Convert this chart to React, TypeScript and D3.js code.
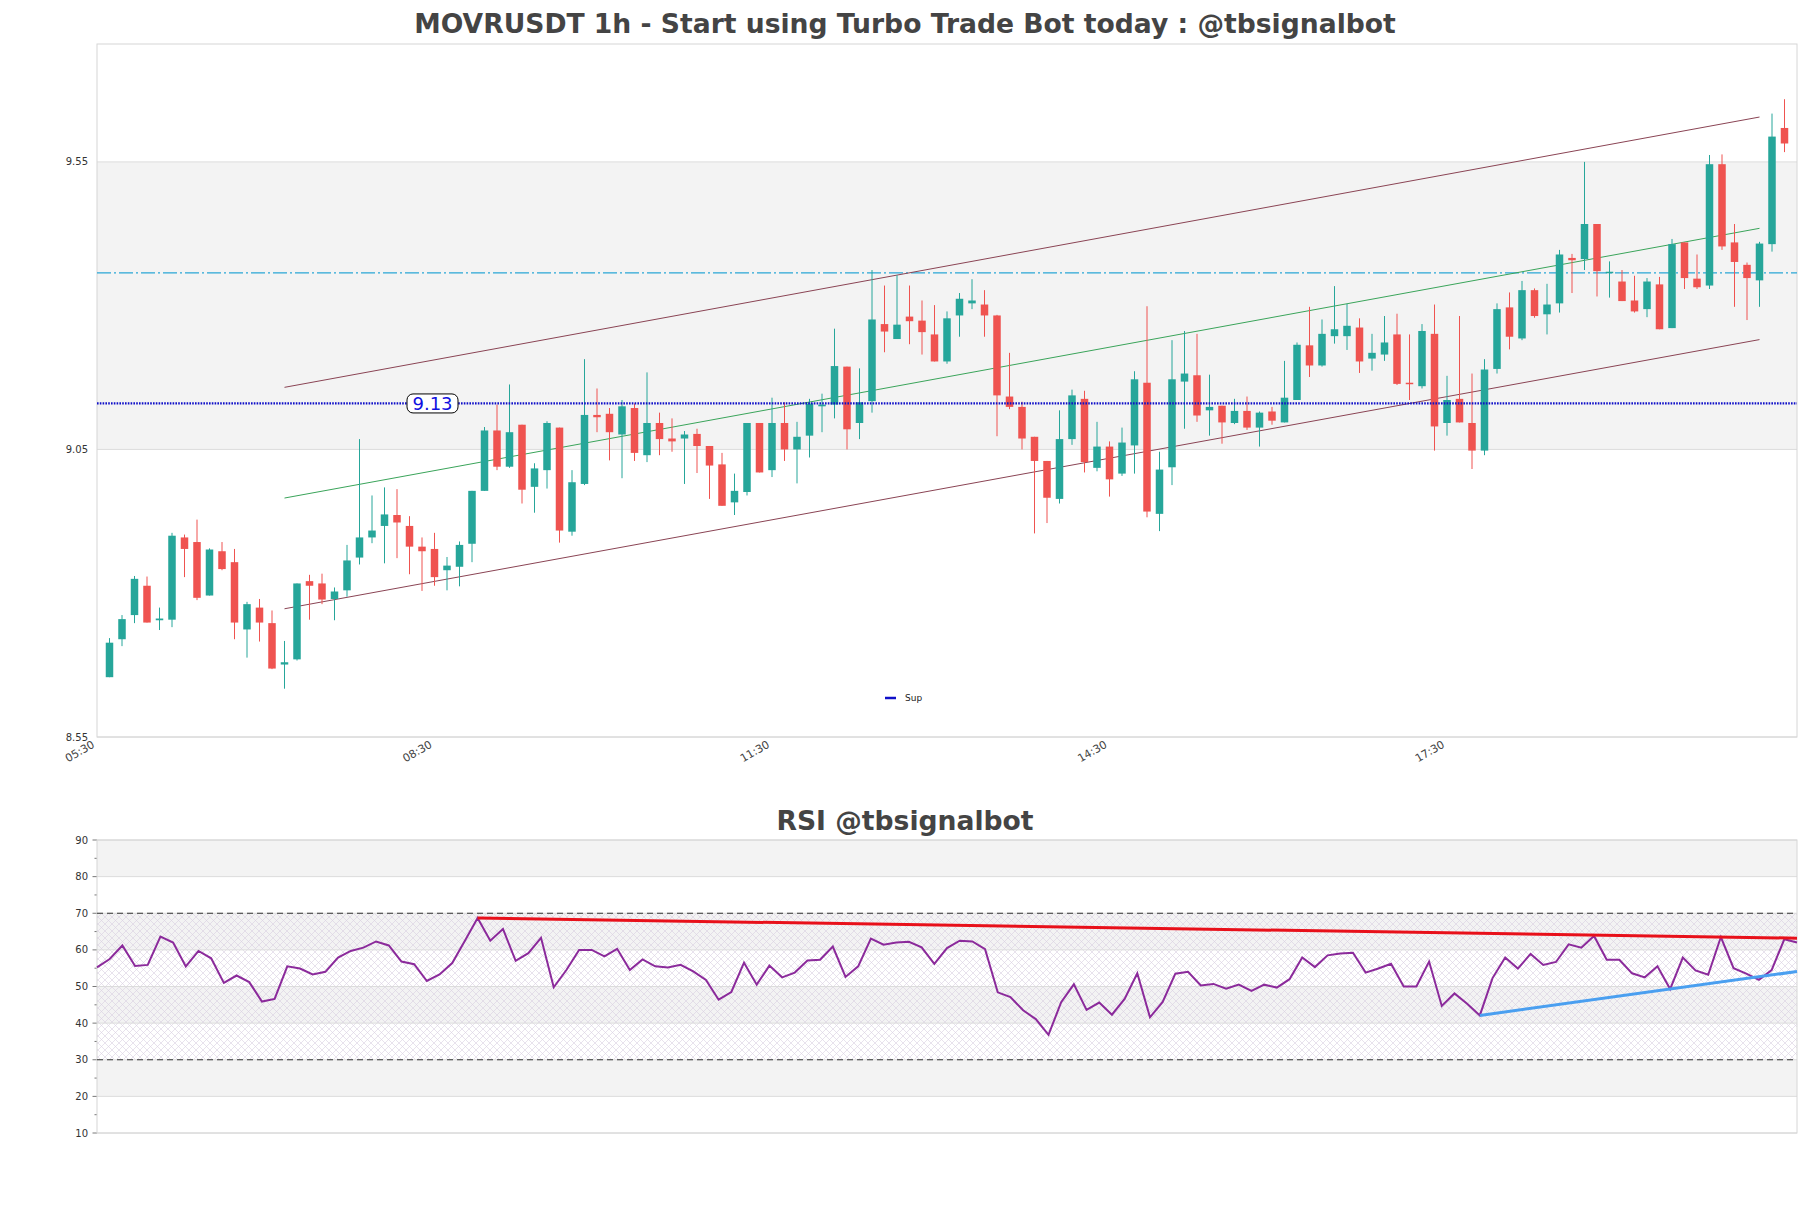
import * as d3 from 'd3';

// candle data, index 0 = first candle
const opens = [
  8.654, 8.720, 8.762, 8.813, 8.753, 8.754, 8.897, 8.889, 8.796, 8.873,
  8.854, 8.737, 8.775, 8.748, 8.676, 8.685, 8.821, 8.817, 8.790, 8.805,
  8.862, 8.897, 8.917, 8.936, 8.917, 8.881, 8.877, 8.840, 8.846, 8.886,
  8.978, 9.083, 9.020, 9.093, 8.985, 9.014, 9.088, 8.907, 8.990, 9.110,
  9.112, 9.076, 9.122, 9.040, 9.096, 9.069, 9.069, 9.077, 9.056, 9.024,
  8.958, 8.976, 9.096, 9.014, 9.096, 9.050, 9.074, 9.125, 9.128, 9.194,
  9.096, 9.134, 9.268, 9.242, 9.281, 9.274, 9.250, 9.203, 9.283, 9.304,
  9.302, 9.283, 9.142, 9.124, 9.072, 9.030, 8.964, 9.068, 9.138, 9.018,
  9.055, 9.008, 9.057, 9.166, 8.938, 9.019, 9.168, 9.179, 9.118, 9.126,
  9.096, 9.117, 9.088, 9.116, 9.097, 9.136, 9.231, 9.196, 9.247, 9.247,
  9.262, 9.208, 9.215, 9.250, 9.166, 9.160, 9.251, 9.096, 9.138, 9.096,
  9.048, 9.190, 9.297, 9.243, 9.327, 9.285, 9.304, 9.383, 9.381, 9.442,
  9.357, 9.342, 9.309, 9.294, 9.337, 9.261, 9.410, 9.347, 9.335, 9.546,
  9.410, 9.371, 9.344, 9.407, 9.609,
];
const highs = [
  8.722, 8.762, 8.830, 8.829, 8.775, 8.905, 8.902, 8.928, 8.878, 8.889,
  8.877, 8.785, 8.790, 8.770, 8.717, 8.817, 8.832, 8.834, 8.810, 8.884,
  9.068, 8.970, 8.984, 8.981, 8.934, 8.897, 8.905, 8.863, 8.890, 8.978,
  9.089, 9.128, 9.163, 9.093, 9.026, 9.099, 9.088, 9.014, 9.207, 9.156,
  9.122, 9.136, 9.130, 9.184, 9.114, 9.104, 9.082, 9.086, 9.056, 9.044,
  9.008, 9.096, 9.096, 9.140, 9.132, 9.098, 9.138, 9.147, 9.260, 9.194,
  9.191, 9.362, 9.335, 9.353, 9.335, 9.309, 9.301, 9.290, 9.322, 9.346,
  9.327, 9.284, 9.218, 9.133, 9.072, 9.030, 9.118, 9.154, 9.152, 9.098,
  9.064, 9.088, 9.186, 9.299, 9.046, 9.240, 9.256, 9.251, 9.180, 9.126,
  9.138, 9.142, 9.116, 9.124, 9.204, 9.236, 9.298, 9.276, 9.334, 9.303,
  9.278, 9.251, 9.282, 9.286, 9.250, 9.268, 9.302, 9.178, 9.282, 9.182,
  9.207, 9.304, 9.323, 9.343, 9.330, 9.338, 9.397, 9.390, 9.550, 9.442,
  9.377, 9.362, 9.352, 9.348, 9.350, 9.416, 9.410, 9.389, 9.562, 9.563,
  9.442, 9.375, 9.411, 9.634, 9.659,
];
const lows = [
  8.654, 8.708, 8.748, 8.749, 8.736, 8.741, 8.828, 8.788, 8.796, 8.840,
  8.720, 8.688, 8.716, 8.668, 8.634, 8.683, 8.754, 8.781, 8.753, 8.794,
  8.850, 8.887, 8.852, 8.861, 8.833, 8.804, 8.813, 8.805, 8.812, 8.854,
  8.978, 9.014, 9.018, 8.956, 8.940, 8.982, 8.888, 8.900, 8.988, 9.080,
  9.031, 9.000, 9.030, 9.028, 9.040, 9.046, 8.990, 9.009, 8.964, 8.952,
  8.936, 8.970, 9.010, 9.002, 9.030, 8.991, 9.036, 9.080, 9.104, 9.050,
  9.068, 9.114, 9.219, 9.242, 9.233, 9.215, 9.203, 9.199, 9.246, 9.294,
  9.246, 9.073, 9.120, 9.050, 8.904, 8.922, 8.956, 9.058, 9.010, 9.012,
  8.968, 9.004, 9.008, 8.932, 8.908, 8.988, 9.086, 9.098, 9.074, 9.060,
  9.094, 9.084, 9.055, 9.093, 9.097, 9.136, 9.176, 9.194, 9.234, 9.223,
  9.183, 9.187, 9.204, 9.162, 9.136, 9.156, 9.048, 9.074, 9.097, 9.016,
  9.040, 9.182, 9.224, 9.240, 9.279, 9.250, 9.288, 9.322, 9.362, 9.316,
  9.314, 9.308, 9.288, 9.280, 9.259, 9.261, 9.329, 9.329, 9.329, 9.397,
  9.298, 9.275, 9.298, 9.394, 9.567,
];
const closes = [
  8.714, 8.755, 8.825, 8.749, 8.756, 8.900, 8.877, 8.792, 8.876, 8.842,
  8.749, 8.781, 8.749, 8.669, 8.680, 8.817, 8.813, 8.789, 8.803, 8.857,
  8.897, 8.909, 8.937, 8.923, 8.881, 8.873, 8.828, 8.848, 8.884, 8.978,
  9.083, 9.020, 9.080, 8.980, 9.017, 9.096, 8.909, 8.993, 9.110, 9.106,
  9.080, 9.125, 9.044, 9.096, 9.068, 9.064, 9.076, 9.056, 9.022, 8.952,
  8.978, 9.096, 9.010, 9.096, 9.050, 9.072, 9.130, 9.128, 9.195, 9.085,
  9.132, 9.276, 9.255, 9.267, 9.273, 9.254, 9.203, 9.278, 9.312, 9.309,
  9.283, 9.144, 9.124, 9.069, 9.030, 8.966, 9.068, 9.144, 9.028, 9.055,
  8.998, 9.062, 9.172, 8.942, 9.015, 9.172, 9.182, 9.109, 9.124, 9.097,
  9.117, 9.088, 9.114, 9.100, 9.140, 9.232, 9.196, 9.251, 9.259, 9.265,
  9.203, 9.218, 9.236, 9.164, 9.164, 9.256, 9.090, 9.136, 9.097, 9.048,
  9.189, 9.294, 9.246, 9.327, 9.282, 9.302, 9.389, 9.379, 9.442, 9.360,
  9.359, 9.308, 9.290, 9.342, 9.259, 9.407, 9.348, 9.332, 9.546, 9.403,
  9.376, 9.348, 9.408, 9.594, 9.582,
];

const rsi = [
  55.2, 57.5, 61.2, 55.6, 55.9, 63.6, 62.0, 55.5, 59.7, 57.7,
  51.0, 53.0, 51.2, 45.9, 46.6, 55.5, 54.9, 53.3, 54.0, 57.9,
  59.7, 60.6, 62.3, 61.2, 56.8, 56.1, 51.5, 53.3, 56.4, 62.5,
  68.7, 62.5, 65.7, 57.0, 59.1, 63.3, 49.8, 54.5, 60.0, 60.0,
  58.2, 60.3, 54.5, 57.4, 55.5, 55.2, 55.9, 54.1, 51.8, 46.4,
  48.5, 56.5, 50.5, 55.7, 52.5, 53.8, 57.1, 57.3, 60.9, 52.6,
  55.5, 63.1, 61.4, 62.0, 62.2, 60.7, 56.2, 60.5, 62.5, 62.3,
  60.2, 48.4, 47.1, 43.5, 41.1, 36.8, 45.7, 50.6, 43.6, 45.6,
  42.3, 46.6, 53.6, 41.6, 45.8, 53.5, 54.0, 50.3, 50.7, 49.4,
  50.5, 48.8, 50.5, 49.7, 52.0, 57.9, 55.3, 58.5, 59.0, 59.2,
  53.8, 54.9, 56.2, 50.0, 50.0, 56.8, 44.7, 48.1, 45.3, 42.1,
  52.3, 57.9, 54.9, 58.9, 55.9, 56.7, 61.5, 60.6, 63.8, 57.3,
  57.3, 53.6, 52.5, 55.5, 49.3, 57.9, 54.4, 53.2, 63.5, 55.0,
  53.5, 51.8, 54.5, 62.9, 62.0,
];

const xTickIdx = [-1, 26, 53, 80, 107];
const xTickLabels = ['05:30', '08:30', '11:30', '14:30', '17:30'];
const priceTicks = [8.55, 9.05, 9.55];
const rsiTicks = [10, 20, 30, 40, 50, 60, 70, 80, 90];

const supLevel = 9.13;
const resLevel = 9.357;
// regression channel: [start idx, end idx], [start val, end val]
const channelIdx = [14, 132];
const channelUpper = [9.158, 9.628];
const channelLower = [8.773, 9.241];
// rsi trend lines
const rsiResIdx = [30, 134];
const rsiResVal = [68.7, 63.2];
const rsiSupIdx = [109, 134];
const rsiSupVal = [42.1, 54.1];

const W = 1811;
const H = 1208;
const FONT = 'DejaVu Sans, sans-serif';
const UP = '#26a69a';
const DOWN = '#ef5350';

const App = () => {
  const left = 97, right = 1797;
  const top = 44, bottom = 737;
  const rTop = 840, rBottom = 1133;

  const x = d3.scaleLinear().domain([-1, 135]).range([left, right]);
  const y = d3.scaleLinear().domain([8.55, 9.755]).range([bottom, top]);
  const xr = d3.scaleLinear().domain([0, rsi.length - 1]).range([left, right]);
  const yr = d3.scaleLinear().domain([10, 90]).range([rBottom, rTop]);

  const bodyW = 7.5;
  const mid = channelUpper.map((v, i) => (v + channelLower[i]) / 2);

  const rsiLine = d3.line<number>().x((_, i) => xr(i)).y(d => yr(d));

  const chan = (vals: number[], color: string, key: string) => (
    <line key={key} x1={x(channelIdx[0])} x2={x(channelIdx[1])} y1={y(vals[0])} y2={y(vals[1])}
      stroke={color} strokeWidth={1} />
  );

  return (
    <svg width={W} height={H} style={{ position: 'absolute', left: 0, top: 0, display: 'block', background: '#fff' }}
      fontFamily={FONT}>
      <defs>
        <pattern id="hatch" width="7" height="7" patternUnits="userSpaceOnUse">
          <path d="M0,0 L7,7 M7,0 L0,7" stroke="#d9cfe0" strokeWidth="0.6" />
        </pattern>
      </defs>

      <text x={905} y={32.5} textAnchor="middle" fontSize={26.6} fontWeight="bold" fill="#444">
        MOVRUSDT 1h - Start using Turbo Trade Bot today : @tbsignalbot
      </text>

      {/* price panel */}
      <rect x={left} y={y(9.55)} width={right - left} height={y(9.05) - y(9.55)} fill="#f3f3f3" />
      {priceTicks.map(t => (
        <g key={t}>
          <line x1={left} x2={right} y1={y(t)} y2={y(t)} stroke="#dcdcdc" strokeWidth={1} />
          <text x={88} y={y(t)} dy="0.35em" textAnchor="end" fontSize={10} fill="#333">{t.toFixed(2)}</text>
        </g>
      ))}
      <rect x={left} y={top} width={right - left} height={bottom - top} fill="none" stroke="#d6d6d6" />
      {xTickIdx.map((t, i) => (
        <text key={t} transform={`translate(${x(t) - 5.5},${bottom + 3}) rotate(-30)`} textAnchor="end"
          dy="0.7em" fontSize={11} fill="#444">{xTickLabels[i]}</text>
      ))}

      <line x1={left} x2={right} y1={y(resLevel)} y2={y(resLevel)} stroke="#2aa7d6" strokeWidth={1.2}
        strokeDasharray="14,3,2,3" />

      {chan(channelUpper, '#8a4454', 'cu')}
      {chan(channelLower, '#8a4454', 'cl')}
      {chan(mid, '#3aa45a', 'cm')}

      {opens.map((o, i) => {
        const c = closes[i];
        const col = c >= o ? UP : DOWN;
        const yt = y(Math.max(o, c));
        const h = Math.max(1.5, Math.abs(y(o) - y(c)));
        return (
          <g key={i}>
            <line x1={x(i)} x2={x(i)} y1={y(highs[i])} y2={y(lows[i])} stroke={col} strokeWidth={1} />
            <rect x={x(i) - bodyW / 2} y={yt} width={bodyW} height={h} fill={col} />
          </g>
        );
      })}

      <line x1={left} x2={right} y1={y(supLevel)} y2={y(supLevel)} stroke="#1010c8" strokeWidth={2.2}
        strokeDasharray="1.6,1.2" />
      <rect x={407} y={y(supLevel) - 9.5} width={51} height={19} rx={6} fill="#fff" stroke="#000" strokeWidth={1} />
      <text x={432.5} y={y(supLevel)} dy="0.36em" textAnchor="middle" fontSize={18} fill="#1010e0">
        {supLevel.toFixed(2)}
      </text>

      <line x1={885} x2={896} y1={698} y2={698} stroke="#1010c8" strokeWidth={2.5} />
      <text x={905} y={698} dy="0.35em" fontSize={9} fill="#222">Sup</text>

      {/* rsi panel */}
      <text x={905} y={830} textAnchor="middle" fontSize={26.6} fontWeight="bold" fill="#444">RSI @tbsignalbot</text>
      {[20, 40, 60, 80].map(b => (
        <rect key={b} x={left} y={yr(b + 10)} width={right - left} height={yr(b) - yr(b + 10)} fill="#f3f3f3" />
      ))}
      <rect x={left} y={yr(70)} width={right - left} height={yr(30) - yr(70)} fill="url(#hatch)" />
      {rsiTicks.map(t => (
        <g key={t}>
          <line x1={left} x2={right} y1={yr(t)} y2={yr(t)} stroke="#dcdcdc" strokeWidth={1} />
          <line x1={left - 4.5} x2={left} y1={yr(t)} y2={yr(t)} stroke="#555" strokeWidth={0.8} />
          <text x={88} y={yr(t)} dy="0.35em" textAnchor="end" fontSize={10} fill="#333">{t}</text>
        </g>
      ))}
      {rsiTicks.slice(0, -1).map(t => (
        <line key={'m' + t} x1={left - 2.5} x2={left} y1={yr(t + 5)} y2={yr(t + 5)} stroke="#555" strokeWidth={0.8} />
      ))}
      <rect x={left} y={rTop} width={right - left} height={rBottom - rTop} fill="none" stroke="#d6d6d6" />
      {[70, 30].map(t => (
        <line key={'d' + t} x1={left} x2={right} y1={yr(t)} y2={yr(t)} stroke="#333" strokeWidth={1.1}
          strokeDasharray="6,4" />
      ))}

      <path d={rsiLine(rsi) || ''} fill="none" stroke="#8b2a9b" strokeWidth={2} />
      <line x1={xr(rsiResIdx[0])} x2={xr(rsiResIdx[1])} y1={yr(rsiResVal[0])} y2={yr(rsiResVal[1])}
        stroke="#e8101a" strokeWidth={3} />
      <line x1={xr(rsiSupIdx[0])} x2={xr(rsiSupIdx[1])} y1={yr(rsiSupVal[0])} y2={yr(rsiSupVal[1])}
        stroke="#4a9ff0" strokeWidth={3} />
    </svg>
  );
};

export default App;
